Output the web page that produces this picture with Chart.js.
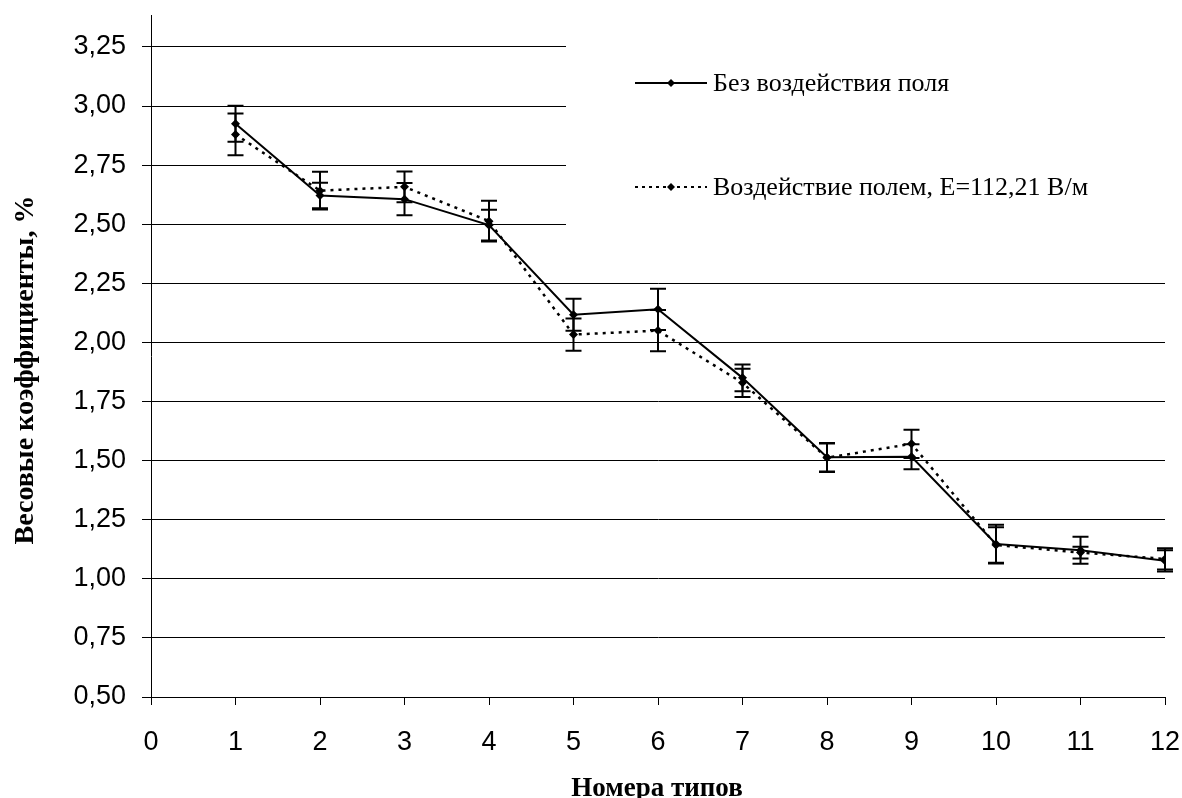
<!DOCTYPE html>
<html>
<head>
<meta charset="utf-8">
<script src="https://cdn.jsdelivr.net/npm/chart.js@4.4.1/dist/chart.umd.min.js"></script>
<style>
  html, body { margin: 0; padding: 0; background: #fff; }
  #wrap { position: relative; width: 1182px; height: 798px; }
</style>
</head>
<body>
<div id="wrap"><canvas id="c" width="1182" height="798"></canvas></div>
<script>
// ---- data ----
const types = [1, 2, 3, 4, 5, 6, 7, 8, 9, 10, 11, 12];
const seriesNames = ['Без воздействия поля', 'Воздействие полем, Е=112,21 В/м'];
const noField = [2.925, 2.621, 2.606, 2.496, 2.117, 2.140, 1.850, 1.514, 1.516, 1.147, 1.121, 1.076];
const noFieldErr = [0.076, 0.054, 0.068, 0.065, 0.068, 0.087, 0.057, 0.060, 0.053, 0.082, 0.057, 0.045];
const withField = [2.880, 2.642, 2.658, 2.513, 2.033, 2.050, 1.829, 1.512, 1.571, 1.143, 1.111, 1.084];
const withFieldErr = [0.088, 0.080, 0.065, 0.086, 0.068, 0.087, 0.060, 0.060, 0.060, 0.075, 0.025, 0.045];
const yTicks = [0.5, 0.75, 1.0, 1.25, 1.5, 1.75, 2.0, 2.25, 2.5, 2.75, 3.0, 3.25];
const xTicks = [0, 1, 2, 3, 4, 5, 6, 7, 8, 9, 10, 11, 12];
const xTitle = 'Номера типов';
const yTitle = 'Весовые коэффициенты, %';

const toPoints = (ys) => ys.map((v, i) => ({ x: types[i], y: v }));

const errorBars = {
  id: 'errorBars',
  afterDatasetsDraw(chart) {
    const ctx = chart.ctx, xs = chart.scales.x, ys = chart.scales.y;
    ctx.save();
    ctx.strokeStyle = '#000';
    ctx.lineWidth = 2;
    chart.data.datasets.forEach(ds => {
      ds.data.forEach((p, i) => {
        const e = ds.errors[i];
        const px = xs.getPixelForValue(p.x);
        const yT = ys.getPixelForValue(p.y + e);
        const yB = ys.getPixelForValue(p.y - e);
        ctx.beginPath();
        ctx.moveTo(px, yT); ctx.lineTo(px, yB);
        ctx.moveTo(px - 8, yT); ctx.lineTo(px + 8, yT);
        ctx.moveTo(px - 8, yB); ctx.lineTo(px + 8, yB);
        ctx.stroke();
      });
    });
    ctx.restore();
  }
};

const legendBox = {
  id: 'legendBox',
  beforeDatasetsDraw(chart) {
    const ctx = chart.ctx;
    ctx.save();
    ctx.fillStyle = '#fff';
    ctx.fillRect(566, 28, 616, 226);
    ctx.restore();
  },
  afterDraw(chart) {
    const ctx = chart.ctx;
    ctx.save();
    const rows = [
      { y: 83, dash: [], name: seriesNames[0] },
      { y: 187, dash: [3, 4], name: seriesNames[1] }
    ];
    rows.forEach(r => {
      ctx.strokeStyle = '#000';
      ctx.lineWidth = 2;
      ctx.setLineDash(r.dash);
      ctx.beginPath(); ctx.moveTo(635, r.y); ctx.lineTo(707, r.y); ctx.stroke();
      ctx.setLineDash([]);
      ctx.fillStyle = '#000';
      ctx.beginPath();
      ctx.moveTo(671, r.y - 4); ctx.lineTo(675, r.y); ctx.lineTo(671, r.y + 4); ctx.lineTo(667, r.y);
      ctx.closePath(); ctx.fill();
      ctx.font = '26px "Liberation Serif"';
      ctx.textBaseline = 'middle';
      ctx.textAlign = 'left';
      ctx.fillText(r.name, 713, r.y + 1);
    });
    // axis titles
    ctx.font = 'bold 27px "Liberation Serif"';
    ctx.textAlign = 'center';
    ctx.textBaseline = 'alphabetic';
    ctx.fillText(xTitle, 657, 796);
    ctx.font = 'bold 28px "Liberation Serif"';
    ctx.translate(33, 370);
    ctx.rotate(-Math.PI / 2);
    ctx.fillText(yTitle, 0, 0);
    ctx.restore();
  }
};

new Chart(document.getElementById('c'), {
  type: 'line',
  data: {
    datasets: [
      {
        label: seriesNames[0], data: toPoints(noField), errors: noFieldErr,
        borderColor: '#000', backgroundColor: '#000', borderWidth: 2,
        pointStyle: 'rectRot', pointRadius: 4.5, pointBorderWidth: 0, tension: 0
      },
      {
        label: seriesNames[1], data: toPoints(withField), errors: withFieldErr,
        borderColor: '#000', backgroundColor: '#000', borderWidth: 2.5, borderDash: [3, 5],
        pointStyle: 'rectRot', pointRadius: 4.5, pointBorderWidth: 0, tension: 0
      }
    ]
  },
  options: {
    responsive: false,
    animation: false,
    layout: { padding: { left: 0, right: 17, top: 15, bottom: 0 } },
    plugins: { legend: { display: false }, tooltip: { enabled: false } },
    scales: {
      x: {
        type: 'linear', min: 0, max: 12,
        afterBuildTicks: s => { s.ticks = xTicks.map(v => ({ value: v })); },
        afterFit: s => { s.height = 101; s.paddingLeft = 0; s.paddingRight = 0; },
        ticks: { color: '#000', font: { family: '"Liberation Sans"', size: 27 }, padding: 21, maxRotation: 0, autoSkip: false,
                 callback: v => String(v) },
        grid: { drawOnChartArea: false, drawTicks: true, tickLength: 8, color: '#000', lineWidth: 1 },
        border: { color: '#000', width: 1 }
      },
      y: {
        type: 'linear', min: 0.5, max: 3.385,
        afterBuildTicks: s => { s.ticks = yTicks.map(v => ({ value: v })); },
        afterFit: s => { s.width = 151; s.paddingTop = 0; s.paddingBottom = 0; },
        ticks: { color: '#000', font: { family: '"Liberation Sans"', size: 27 }, padding: 16,
                 callback: v => v.toFixed(2).replace('.', ',') },
        grid: { color: '#000', lineWidth: 1, tickLength: 9 },
        border: { color: '#000', width: 1 }
      }
    }
  },
  plugins: [legendBox, errorBars]
});
</script>
</body>
</html>
